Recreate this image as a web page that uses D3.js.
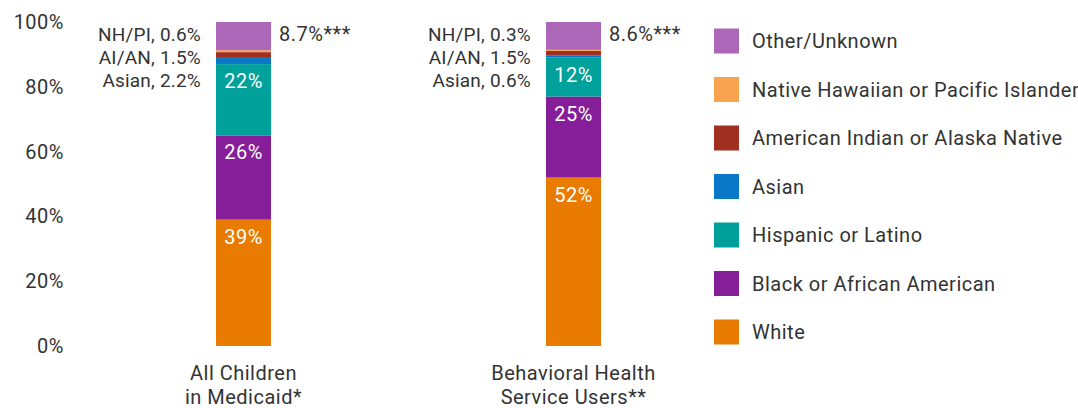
<!DOCTYPE html>
<html>
<head>
<meta charset="utf-8">
<script src="https://cdn.jsdelivr.net/npm/d3@7"></script>
<style>
  body { margin: 0; background: #fff; }
  text { font-family: Roboto, "Liberation Sans", sans-serif; fill: #333; font-size: 20px; letter-spacing: 0.5px; }
  text.side { font-size: 19px; letter-spacing: 0.2px; }
</style>
</head>
<body>
<div id="chart"></div>
<script>
const groups = ['All Children\nin Medicaid*', 'Behavioral Health\nService Users**'];
const seriesNames = ['White', 'Black or African American', 'Hispanic or Latino', 'Asian',
  'American Indian or Alaska Native', 'Native Hawaiian or Pacific Islander', 'Other/Unknown'];
const seriesColors = ['#e87b00', '#861e99', '#00a19a', '#0a78c8', '#a23022', '#f9a350', '#ad67b8'];
const allChildren = [39, 26, 22, 2.2, 1.5, 0.6, 8.7];
const bhUsers = [52, 25, 12, 0.6, 1.5, 0.3, 8.6];
const insideLabels = [['39%', '26%', '22%'], ['52%', '25%', '12%']];
const sideLabels = [['NH/PI, 0.6%', 'AI/AN, 1.5%', 'Asian, 2.2%'], ['NH/PI, 0.3%', 'AI/AN, 1.5%', 'Asian, 0.6%']];
const otherLabels = ['8.7%***', '8.6%***'];
const yTicks = [0, 20, 40, 60, 80, 100];

const width = 1078, height = 408;
const margin = { top: 22, bottom: 62 };
const svg = d3.select('#chart').append('svg').attr('width', width).attr('height', height);

const y = d3.scaleLinear().domain([0, 100]).range([height - margin.bottom, margin.top]);
const x = d3.scalePoint().domain(groups).range([243.5, 573.5]);
const barW = 55;

// y axis labels only
svg.append('g').selectAll('text').data(yTicks).enter().append('text')
  .attr('x', 64).attr('y', d => y(d))
  .attr('text-anchor', 'end').attr('dominant-baseline', 'central')
  .text(d => d + '%');

const rows = [allChildren, bhUsers];
rows.forEach((vals, gi) => {
  const g = groups[gi];
  const cx = x(g);
  let cum = 0;
  const segs = vals.map((v, i) => { const s = { i, y0: cum, y1: cum + v }; cum += v; return s; });
  svg.append('g').selectAll('rect').data(segs).enter().append('rect')
    .attr('x', cx - barW / 2).attr('width', barW)
    .attr('y', d => y(d.y1)).attr('height', d => y(d.y0) - y(d.y1))
    .attr('fill', d => seriesColors[d.i]);

  // labels inside bar
  svg.append('g').selectAll('text').data(segs.slice(0, 3)).enter().append('text')
    .attr('x', cx).attr('y', d => y(d.y1) + 17)
    .attr('text-anchor', 'middle').attr('dominant-baseline', 'central')
    .style('fill', '#fff')
    .text(d => insideLabels[gi][d.i]);

  // side labels for small segments
  svg.append('g').selectAll('text').data(sideLabels[gi]).enter().append('text')
    .attr('class', 'side')
    .attr('x', cx - barW / 2 - 15).attr('y', (d, i) => y(100) + 12 + i * 23)
    .attr('text-anchor', 'end').attr('dominant-baseline', 'central')
    .text(d => d);

  svg.append('text')
    .attr('x', cx + barW / 2 + 8).attr('y', y(100) + 12)
    .attr('dominant-baseline', 'central')
    .text(otherLabels[gi]);

  // category label
  const t = svg.append('text').attr('x', cx).attr('y', 373)
    .attr('text-anchor', 'middle').attr('dominant-baseline', 'central');
  g.split('\n').forEach((line, li) => {
    t.append('tspan').attr('x', cx).attr('dy', li === 0 ? 0 : 24).text(line);
  });
});

// legend, top to bottom reversed order
const legendOrder = d3.range(seriesNames.length).reverse();
const legend = svg.append('g').selectAll('g').data(legendOrder).enter().append('g')
  .attr('transform', (d, i) => `translate(714, ${41 + i * 48.5})`);
legend.append('rect').attr('x', 0).attr('y', -12.5).attr('width', 25).attr('height', 25)
  .attr('fill', d => seriesColors[d]);
legend.append('text').attr('x', 38).attr('y', 0)
  .attr('dominant-baseline', 'central')
  .text(d => seriesNames[d]);
</script>
</body>
</html>
